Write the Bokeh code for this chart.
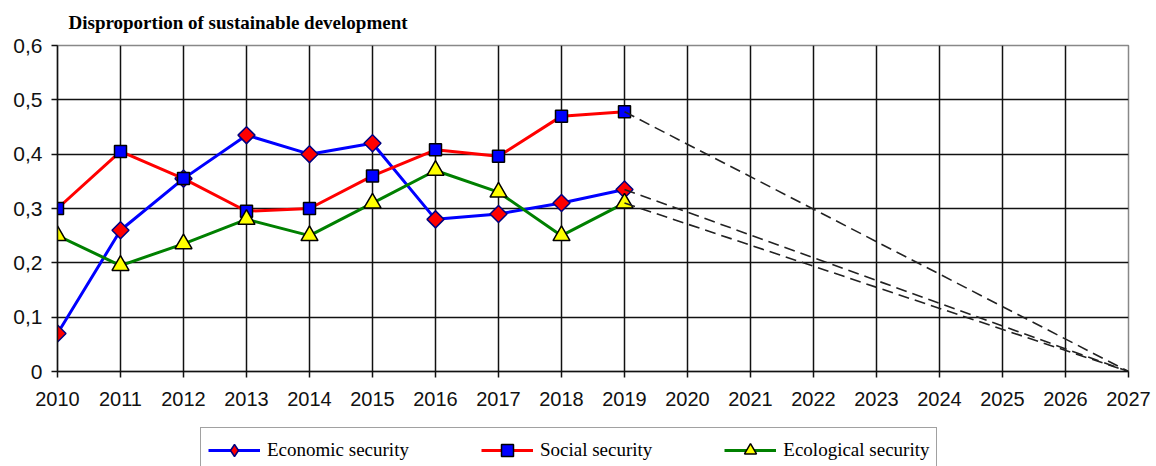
from bokeh.plotting import figure
from bokeh.layouts import column
from bokeh.models import (FixedTicker, CustomJSTickFormatter, Legend, LegendItem,
                          Range1d)
from bokeh.embed import file_html
from bokeh.resources import INLINE

# ---------------- data ----------------
years = [2010, 2011, 2012, 2013, 2014, 2015, 2016, 2017, 2018, 2019]
axis_years = [2010, 2011, 2012, 2013, 2014, 2015, 2016, 2017, 2018, 2019,
              2020, 2021, 2022, 2023, 2024, 2025, 2026, 2027]
economic = [0.07, 0.26, 0.355, 0.435, 0.40, 0.42, 0.28, 0.29, 0.31, 0.335]
social = [0.30, 0.405, 0.355, 0.295, 0.30, 0.36, 0.408, 0.396, 0.47, 0.478]
ecological = [0.25, 0.195, 0.235, 0.28, 0.25, 0.31, 0.37, 0.33, 0.25, 0.31]
forecast_year = 2027
forecast_end = 0.0
y_ticks = [0, 0.1, 0.2, 0.3, 0.4, 0.5, 0.6]

title_text = "Disproportion of sustainable development"
names = ["Economic security", "Social security", "Ecological security"]

# styles per series: line colour, marker, marker size, fill, outline, angle
styles = [
    dict(line="#0000ff", marker="square", size=12, fill="#ff0000", edge="#000080",
         angle=0.785398, legend_marker="diamond", legend_size=16),
    dict(line="#ff0000", marker="square", size=12, fill="#0000ff", edge="#000000",
         angle=0.0, legend_marker="square", legend_size=12),
    dict(line="#008000", marker="triangle", size=17, fill="#ffff00", edge="#000000",
         angle=0.0, legend_marker="triangle", legend_size=14),
]

W = 1153

# ---------------- main figure ----------------
p = figure(width=W, height=417, output_backend="svg", toolbar_location=None,
           x_range=Range1d(axis_years[0], axis_years[-1]),
           y_range=Range1d(y_ticks[0], y_ticks[-1]),
           min_border_left=57, min_border_right=25, min_border_top=42,
           min_border_bottom=46)

p.title.text = title_text
p.title.align = "left"
p.title.offset = 11
p.title.text_font = "Liberation Serif"
p.title.text_font_style = "bold"
p.title.text_font_size = "19px"
p.title.text_color = "#000000"
p.title.vertical_align = "top"
p.title.standoff = 22

p.background_fill_color = "white"
p.border_fill_color = "white"
p.outline_line_color = "#888888"
p.outline_line_width = 1.5

p.xaxis.ticker = FixedTicker(ticks=axis_years)
p.yaxis.ticker = FixedTicker(ticks=y_ticks)
p.yaxis.formatter = CustomJSTickFormatter(
    code="return tick == 0 ? '0' : tick.toFixed(1).replace('.', ',');")

for ax in (p.xaxis[0], p.yaxis[0]):
    ax.axis_line_color = "#111111"
    ax.axis_line_width = 1.5
    ax.major_tick_line_color = "#111111"
    ax.major_tick_line_width = 1.5
    ax.major_tick_in = 0
    ax.major_tick_out = 6
    ax.minor_tick_out = 0
    ax.minor_tick_in = 0
    ax.major_label_text_font = "Liberation Sans"
    ax.major_label_text_color = "#111111"
p.xaxis.major_label_text_font_size = "20px"
p.yaxis.major_label_text_font_size = "21px"
p.xaxis.major_label_standoff = 14
p.yaxis.major_label_standoff = 9

for g in (p.xgrid[0], p.ygrid[0]):
    g.grid_line_color = "#111111"
    g.grid_line_width = 1.5
    g.grid_line_alpha = 1.0

for series, st in zip((economic, social, ecological), styles):
    p.line(years, series, line_color=st["line"], line_width=3, line_join="round")
    p.scatter(years, series, marker=st["marker"], size=st["size"], angle=st["angle"],
              fill_color=st["fill"], line_color=st["edge"], line_width=1.5)

# forecast dashed lines from the 2019 value to zero in 2027
for series in (social, economic, ecological):
    p.line([years[-1], forecast_year], [series[-1], forecast_end],
           line_color="#222222", line_width=1.6, line_dash="11 6")

# ---------------- legend strip ----------------
# same series drawn again, but outside this strip's visible range, so only
# the legend entries show
lg = figure(width=W, height=49, output_backend="svg", toolbar_location=None,
            x_range=Range1d(0, 1), y_range=Range1d(0, 1),
            x_axis_type=None, y_axis_type=None, min_border=0)
lg.outline_line_color = None
lg.background_fill_color = "white"
lg.border_fill_color = "white"

items = []
for name, series, st in zip(names, (economic, social, ecological), styles):
    r = lg.line(years, series, line_color=st["line"], line_width=3)
    m = lg.scatter(years, series, marker=st["legend_marker"], size=st["legend_size"],
                   fill_color=st["fill"], line_color=st["edge"], line_width=1.5)
    items.append(LegendItem(label=name, renderers=[r, m]))

legend = Legend(items=items, orientation="horizontal", location=(143, -7),
                label_text_font="Liberation Serif", label_text_font_size="19px",
                label_text_color="#000000", glyph_width=52, glyph_height=30,
                label_height=30, label_standoff=7, spacing=72, padding=7,
                margin=0,
                border_line_color="#444444", border_line_width=1.5,
                background_fill_color="white", background_fill_alpha=1.0)
lg.add_layout(legend, "center")

layout = column(p, lg, spacing=0)
open("out.html", "w").write(file_html(layout, INLINE))
